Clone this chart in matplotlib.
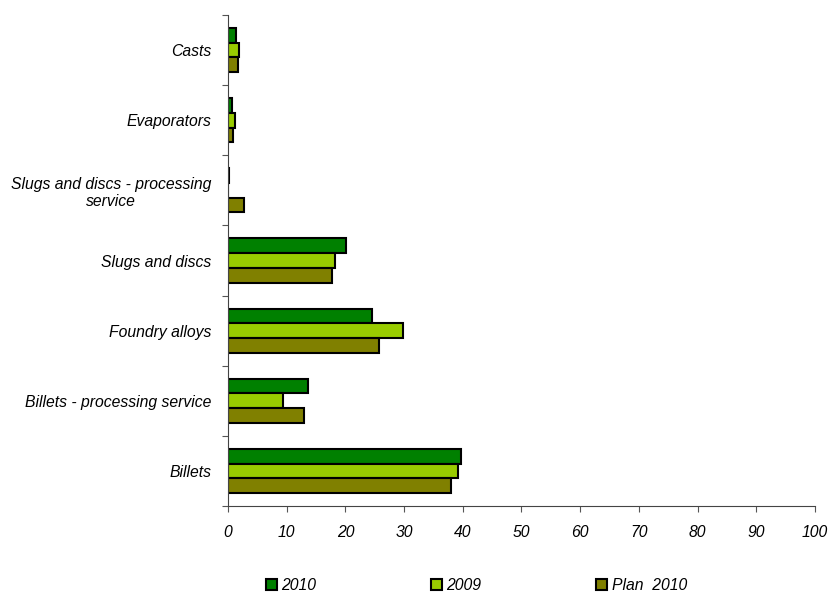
import matplotlib.pyplot as plt
import numpy as np

plt.rcParams['font.family'] = ['Liberation Sans', 'DejaVu Sans']

# categories listed bottom to top
categories = ['Billets', 'Billets - processing service', 'Foundry alloys',
              'Slugs and discs', 'Slugs and discs - processing\nservice',
              'Evaporators', 'Casts']
values_2010 = [39.7, 13.6, 24.5, 20.1, 0.1, 0.7, 1.4]
values_2009 = [39.2, 9.4, 29.8, 18.3, 0.0, 1.2, 1.8]
values_plan = [38.0, 12.9, 25.8, 17.7, 2.7, 0.9, 1.7]
x_ticks = [0, 10, 20, 30, 40, 50, 60, 70, 80, 90, 100]

fig = plt.figure(figsize=(8.31, 5.97), dpi=100)
ax = fig.add_axes([0.2744, 0.1524, 0.7063, 0.8225])

y = np.arange(len(categories))
h = 0.21
bar_kw = dict(height=h, edgecolor='black', linewidth=1.5)
ax.barh(y + h, values_2010, color='#008000', label='2010', **bar_kw)
ax.barh(y, values_2009, color='#99CC00', label='2009', **bar_kw)
ax.barh(y - h, values_plan, color='#808000', label='Plan  2010', **bar_kw)

ax.set_xlim(0, 100)
ax.set_ylim(-0.5, len(categories) - 0.5)
ax.set_xticks(x_ticks)
ax.set_xticklabels([str(t) for t in x_ticks], fontsize=11.3, style='italic')
ax.set_yticks(np.arange(-0.5, len(categories), 1))
ax.set_yticklabels([])
ax.set_yticks(y, minor=True)
ax.set_yticklabels(categories, minor=True, fontsize=11.3, style='italic',
                   multialignment='center')
ax.tick_params(axis='y', which='minor', length=0, pad=12)
ax.tick_params(axis='y', which='major', length=4, color='#555555')
ax.tick_params(axis='x', length=4, color='#555555', pad=10)

for s in ['top', 'right']:
    ax.spines[s].set_visible(False)
ax.spines['left'].set_color('#444444')
ax.spines['bottom'].set_color('#444444')

leg = fig.legend(loc='lower left', bbox_to_anchor=(0.312, -0.004), ncol=3,
                 frameon=False, prop={'size': 11.3, 'style': 'italic'},
                 handlelength=0.7, handleheight=0.7, handletextpad=0.3,
                 columnspacing=7.3, borderaxespad=0)

fig.savefig('out.png', dpi=100)
